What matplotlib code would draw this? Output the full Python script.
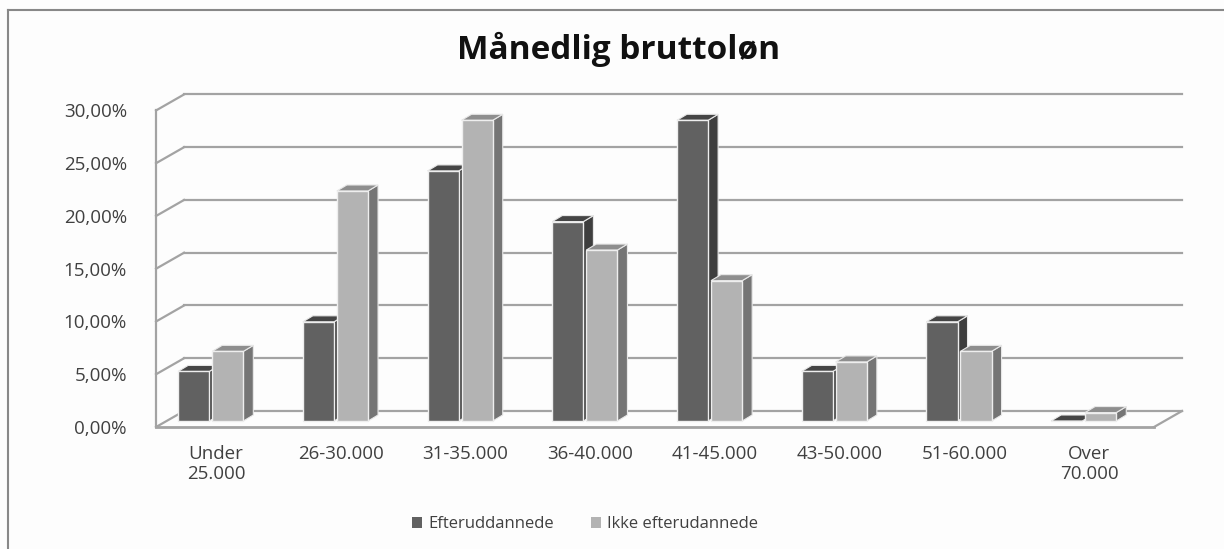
import numpy as np
import matplotlib.pyplot as plt
from matplotlib.patches import Polygon, Patch
from matplotlib.lines import Line2D

plt.rcParams['font.family'] = ['Open Sans', 'DejaVu Sans']

# data
categories = ['Under\n25.000', '26-30.000', '31-35.000', '36-40.000',
              '41-45.000', '43-50.000', '51-60.000', 'Over\n70.000']
efteruddannede = [4.7, 9.4, 23.7, 18.9, 28.5, 4.7, 9.4, 0.0]
ikke_efteruddannede = [6.6, 21.8, 28.5, 16.2, 13.3, 5.6, 6.6, 0.8]
series_names = ['Efteruddannede', 'Ikke efterudannede']
yticks = [0, 5, 10, 15, 20, 25, 30]

front_cols = ['#616161', '#b3b3b3']
top_cols = ['#454545', '#8e8e8e']
side_cols = ['#3e3e3e', '#757575']

fig = plt.figure(figsize=(12.24, 5.49), dpi=100, facecolor='#fdfdfd')
ax = fig.add_axes([0.1275, 0.2222, 0.8382, 0.6066])
ax.set_facecolor('none')

xl, xr = -0.481, 7.746
ymax = 31.56
ax.set_xlim(xl, xr)
ax.set_ylim(0, ymax)

# depth of the 3d floor / walls and of the bars (data units)
DX, DY = 0.2245, 1.517
BDX, BDY = 0.080, 0.569
base = 0.569
width = 0.25
offsets = [-0.179, 0.094]

grid_c = '#a3a3a3'
# back wall grid lines and left wall diagonals
for v in yticks:
    ax.plot([xl + DX, xr], [v + DY, v + DY], color=grid_c, lw=1.6, zorder=1, clip_on=False)
    ax.plot([xl, xl + DX], [v, v + DY], color=grid_c, lw=1.6, zorder=1, clip_on=False)
# front left edge + floor
ax.plot([xl, xl], [0, 30], color=grid_c, lw=1.6, zorder=1, clip_on=False)
ax.plot([xl, xr - DX], [0, 0], color=grid_c, lw=2, zorder=1, clip_on=False)
ax.plot([xr - DX, xr], [0, DY], color=grid_c, lw=1.6, zorder=1, clip_on=False)

x = np.arange(len(categories))
for s, vals in enumerate([efteruddannede, ikke_efteruddannede]):
    for i, h in enumerate(vals):
        x0 = x[i] + offsets[s] - width / 2
        x1 = x0 + width
        top = base + h
        z = 3 + s
        side = Polygon([(x1, base), (x1 + BDX, base + BDY), (x1 + BDX, top + BDY), (x1, top)],
                       closed=True, fc=side_cols[s], ec='#e8e8e8', lw=0.8, zorder=z)
        ax.add_patch(side)
        topf = Polygon([(x0, top), (x1, top), (x1 + BDX, top + BDY), (x0 + BDX, top + BDY)],
                       closed=True, fc=top_cols[s], ec='#e8e8e8', lw=0.8, zorder=z)
        ax.add_patch(topf)
    ax.bar(x + offsets[s], vals, width=width, bottom=base, color=front_cols[s],
           edgecolor='#eeeeee', linewidth=1.0, zorder=3 + s)

ax.set_yticks(yticks)
ax.set_yticklabels([f'{v:.2f}%'.replace('.', ',') for v in yticks])
ax.set_xticks(x)
ax.set_xticklabels(categories, linespacing=1.15)
ax.tick_params(axis='y', length=0, pad=21, labelsize=13.5, labelcolor='#404040')
ax.tick_params(axis='x', length=0, pad=13, labelsize=13.5, labelcolor='#404040')
for sp in ax.spines.values():
    sp.set_visible(False)

fig.text(0.505, 0.91, 'Månedlig bruttoløn', ha='center', va='center',
         fontsize=24, fontweight='bold', color='#111111')

handles = [Patch(facecolor=front_cols[0]), Patch(facecolor=front_cols[1])]
fig.legend(handles, series_names, loc='center', bbox_to_anchor=(0.478, 0.045), ncol=2,
           frameon=False, fontsize=12, handlelength=0.6, handleheight=0.6,
           handletextpad=0.4, columnspacing=2.2, labelcolor='#404040')

# chart frame
fig.add_artist(Line2D([8 / 1224, 8 / 1224], [0, 1 - 10 / 549], color='#888888', lw=1.5))
fig.add_artist(Line2D([8 / 1224, 1], [1 - 10 / 549, 1 - 10 / 549], color='#888888', lw=1.5))

fig.savefig('out.png', dpi=100, facecolor=fig.get_facecolor())
